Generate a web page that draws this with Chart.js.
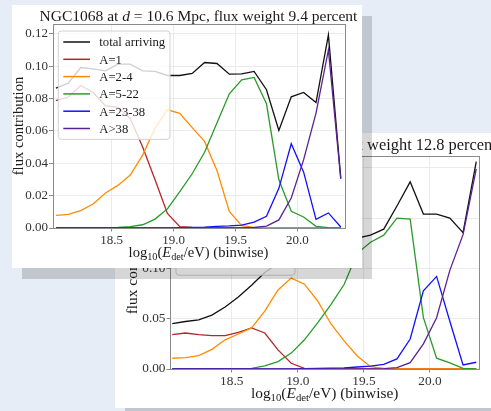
<!DOCTYPE html>
<html>
<head>
<meta charset="utf-8">
<script src="https://cdn.jsdelivr.net/npm/chart.js@4.4.1/dist/chart.umd.min.js"></script>
<style>
html, body { margin: 0; padding: 0; width: 491px; height: 411px; overflow: hidden; background: #e7edf7; }
.card { position: absolute; background: #fff; box-shadow: 10px 11px 0 rgba(0, 0, 0, 0.16); }
#back { left: 115px; top: 133px; width: 385px; height: 275px; }
#front { left: 12px; top: 5px; width: 350px; height: 263px; }
canvas { display: block; }
</style>
</head>
<body>
<div class="card" id="back"><canvas id="chartBack" width="385" height="275"></canvas></div>
<div class="card" id="front"><canvas id="chartFront" width="350" height="263"></canvas></div>
<script>
// bin centres, log10(E/eV)
const energyBins = [18.05, 18.15, 18.25, 18.35, 18.45, 18.55, 18.65, 18.75, 18.85, 18.95, 19.05, 19.15,
                    19.25, 19.35, 19.45, 19.55, 19.65, 19.75, 19.85, 19.95, 20.05, 20.15, 20.25, 20.35];
const groupLabels = ['total arriving', 'A=1', 'A=2-4', 'A=5-22', 'A=23-38', 'A>38'];
const groupColors = ['#111111', '#b82525', '#ff8c00', '#2a9a2a', '#1010ff', '#5a2296'];
const xTickValues = [18.5, 19.0, 19.5, 20.0];

// front chart: flux weight 9.4 percent
const totalFront   = [0.0864, 0.0895, 0.0991, 0.0983, 0.0971, 0.1012, 0.1012, 0.0971, 0.0967, 0.0942, 0.0942, 0.0955,
                      0.1022, 0.1016, 0.0950, 0.0952, 0.0967, 0.0854, 0.0603, 0.0810, 0.0837, 0.0775, 0.1193, 0.0309];
const protonsFront = [0.0786, 0.0809, 0.0880, 0.0837, 0.0755, 0.0745, 0.0675, 0.0500, 0.0298, 0.0090, 0.0008, 0.0003,
                      0.0001, 0, 0, 0, 0, 0, 0, 0, 0, 0, 0, 0];
const heliumFront  = [0.0078, 0.0084, 0.0107, 0.0148, 0.0216, 0.0263, 0.0327, 0.0450, 0.0617, 0.0730, 0.0708, 0.0620,
                      0.0535, 0.0355, 0.0103, 0.0015, 0.0004, 0.0002, 0.0001, 0, 0, 0, 0, 0];
const cnoFront     = [0.0001, 0.0001, 0.0001, 0.0002, 0.0002, 0.0003, 0.0008, 0.0020, 0.0055, 0.0118, 0.0224, 0.0335,
                      0.0468, 0.0648, 0.0829, 0.0915, 0.0930, 0.0767, 0.0298, 0.0103, 0.0068, 0.0010, 0.0002, 0];
const siliconFront = [0, 0, 0, 0, 0, 0, 0, 0, 0.0001, 0.0001, 0.0002, 0.0004,
                      0.0006, 0.0010, 0.0013, 0.0018, 0.0036, 0.0072, 0.0245, 0.0520, 0.0345, 0.0053, 0.0093, 0.0006];
const ironFront    = [0, 0, 0, 0, 0, 0, 0, 0, 0, 0, 0, 0,
                      0, 0, 0, 0.0001, 0.0003, 0.0012, 0.0050, 0.0185, 0.0422, 0.0710, 0.1100, 0.0303];
const yTicksFront  = [0, 0.02, 0.04, 0.06, 0.08, 0.10, 0.12];

// back chart: flux weight 12.8 percent
const totalBack    = [0.0452, 0.0472, 0.0489, 0.0535, 0.0616, 0.0716, 0.0833, 0.0960, 0.1050, 0.1120, 0.1140, 0.1140,
                      0.1100, 0.1130, 0.1300, 0.1330, 0.1390, 0.1620, 0.1860, 0.1540, 0.1540, 0.1500, 0.1355, 0.2060];
const protonsBack  = [0.0341, 0.0358, 0.0341, 0.0331, 0.0331, 0.0364, 0.0408, 0.0358, 0.0190, 0.0057, 0.0007, 0.0002,
                      0.0001, 0, 0, 0, 0, 0, 0, 0, 0, 0, 0, 0];
const heliumBack   = [0.0107, 0.0114, 0.0134, 0.0195, 0.0290, 0.0348, 0.0408, 0.0575, 0.0786, 0.0904, 0.0843, 0.0676,
                      0.0450, 0.0280, 0.0130, 0.0023, 0.0005, 0.0002, 0.0001, 0, 0, 0, 0, 0];
const cnoBack      = [0.0001, 0.0001, 0.0001, 0.0002, 0.0002, 0.0003, 0.0007, 0.0030, 0.0074, 0.0158, 0.0290, 0.0459,
                      0.0640, 0.0840, 0.1150, 0.1260, 0.1330, 0.1500, 0.1490, 0.0510, 0.0107, 0.0060, 0.0007, 0];
const siliconBack  = [0, 0, 0, 0, 0, 0, 0, 0, 0.0001, 0.0002, 0.0003, 0.0005,
                      0.0008, 0.0012, 0.0020, 0.0028, 0.0047, 0.0100, 0.0298, 0.0776, 0.0920, 0.0475, 0.0040, 0.0067];
const ironBack     = [0, 0, 0, 0, 0, 0, 0, 0, 0, 0, 0, 0,
                      0, 0, 0, 0, 0.0003, 0.0013, 0.0063, 0.0250, 0.0509, 0.0980, 0.1335, 0.1990];
const yTicksBack   = [0, 0.05, 0.10, 0.15, 0.20];

const SERIF = "'Liberation Serif', 'DejaVu Serif', serif";

// text with italic / subscript pieces, like the LaTeX labels
function drawRich(ctx, parts, x, y, size, rotated) {
  const fontOf = p => p[1] === 's' ? (size * 0.7) + 'px ' + SERIF
                    : p[1] === 'i' ? 'italic ' + size + 'px ' + SERIF
                    : size + 'px ' + SERIF;
  let w = 0;
  parts.forEach(p => { ctx.font = fontOf(p); w += ctx.measureText(p[0]).width; });
  ctx.save();
  ctx.translate(x, y);
  if (rotated) ctx.rotate(-Math.PI / 2);
  ctx.fillStyle = '#1a1a1a';
  ctx.textAlign = 'left';
  ctx.textBaseline = 'alphabetic';
  let cx = -w / 2;
  parts.forEach(p => {
    ctx.font = fontOf(p);
    ctx.fillText(p[0], cx, p[1] === 's' ? size * 0.22 : 0);
    cx += ctx.measureText(p[0]).width;
  });
  ctx.restore();
}

const richText = {
  id: 'richText',
  afterDraw(chart, args, o) {
    const ctx = chart.ctx, a = chart.chartArea;
    drawRich(ctx, o.title, (a.left + a.right) / 2, o.titleY, o.titleSize);
    drawRich(ctx, o.xLabel, (a.left + a.right) / 2, o.xLabelY, o.labelSize);
    drawRich(ctx, o.yLabel, o.yLabelX, (a.top + a.bottom) / 2, o.labelSize, true);
  }
};

// axes frame plus a matplotlib-like legend box in the upper left
const boxLegend = {
  id: 'boxLegend',
  afterDatasetsDraw(chart, args, o) {
    const ctx = chart.ctx, a = chart.chartArea;
    ctx.save();
    ctx.strokeStyle = '#8a8a8a';
    ctx.lineWidth = 1;
    ctx.strokeRect(Math.round(a.left) + 0.5, Math.round(a.top) + 0.5,
                   Math.round(a.right - a.left), Math.round(a.bottom - a.top));
    const x = a.left + o.dx, y = a.top + o.dy, w = o.w, h = o.h, r = 3;
    ctx.beginPath();
    ctx.roundRect(x, y, w, h, r);
    ctx.fillStyle = 'rgba(255,255,255,0.8)';
    ctx.fill();
    ctx.strokeStyle = '#d0d0d0';
    ctx.stroke();
    ctx.font = o.size + 'px ' + SERIF;
    ctx.textBaseline = 'middle';
    chart.data.datasets.forEach((ds, i) => {
      const cy = y + o.first + i * o.row;
      ctx.strokeStyle = ds.borderColor;
      ctx.lineWidth = 1.5;
      ctx.beginPath();
      ctx.moveTo(x + o.h0, cy);
      ctx.lineTo(x + o.h1, cy);
      ctx.stroke();
      ctx.fillStyle = '#1a1a1a';
      ctx.fillText(ds.label, x + o.tx, cy + 1);
    });
    ctx.restore();
  }
};

function makeDatasets(series) {
  return series.map((vals, i) => ({
    label: groupLabels[i],
    data: vals.map((v, k) => ({ x: energyBins[k], y: v })),
    borderColor: groupColors[i],
    borderWidth: 1.3,
    pointRadius: 0,
    tension: 0,
    order: series.length - i,
    clip: false
  }));
}

function makeChart(id, series, cfg) {
  return new Chart(document.getElementById(id), {
    type: 'line',
    data: { datasets: makeDatasets(series) },
    options: {
      responsive: false,
      animation: false,
      devicePixelRatio: 1,
      events: [],
      layout: { padding: { left: 0, right: cfg.padRight, top: cfg.padTop, bottom: 0 } },
      plugins: {
        legend: { display: false },
        title: { display: false },
        tooltip: { enabled: false },
        boxLegend: cfg.legend,
        richText: cfg.text
      },
      scales: {
        x: {
          type: 'linear',
          min: cfg.xMin,
          max: cfg.xMax,
          afterFit: s => { s.height = cfg.xHeight; },
          afterBuildTicks: s => { s.ticks = xTickValues.map(v => ({ value: v })); },
          ticks: { font: { family: SERIF, size: cfg.tickSize }, color: '#333', padding: 1,
                   maxRotation: 0, autoSkip: false, callback: v => Number(v).toFixed(1) },
          grid: { color: '#ebebeb', tickColor: '#8a8a8a', tickLength: 3.5 },
          border: { display: false }
        },
        y: {
          min: 0,
          max: cfg.yMax,
          afterFit: s => { s.width = cfg.yWidth; },
          afterBuildTicks: s => { s.ticks = cfg.yTicks.map(v => ({ value: v })); },
          ticks: { font: { family: SERIF, size: cfg.tickSize }, color: '#333', padding: 1,
                   callback: v => Number(v).toFixed(2) },
          grid: { color: '#ebebeb', tickColor: '#8a8a8a', tickLength: 3.5 },
          border: { display: false }
        }
      }
    },
    plugins: [boxLegend, richText]
  });
}

const xLabelParts = [['log', ''], ['10', 's'], ['(', ''], ['E', 'i'], ['det', 's'], ['/eV) (binwise)', '']];
const yLabelParts = [['flux contribution', '']];

makeChart('chartBack', [totalBack, protonsBack, heliumBack, cnoBack, siliconBack, ironBack], {
  padRight: 20.7, padTop: 22.7, xHeight: 39, yWidth: 55,
  xMin: 18.033, xMax: 20.373, yMax: 0.212, yTicks: yTicksBack, tickSize: 13.3,
  legend: { dx: 6, dy: 4.5, w: 119, h: 115, first: 11.7, row: 18.4, h0: 5.3, h1: 33.6, tx: 43.5, size: 13.4 },
  text: {
    title: [['NGC1068 at ', ''], ['d', 'i'], [' = 10.6 Mpc, flux weight 12.8 percent', '']],
    titleY: 17, titleSize: 16.4,
    xLabel: xLabelParts, xLabelY: 265, labelSize: 15.4,
    yLabel: yLabelParts, yLabelX: 21.7
  }
});

makeChart('chartFront', [totalFront, protonsFront, heliumFront, cnoFront, siliconFront, ironFront], {
  padRight: 17.5, padTop: 19, xHeight: 40, yWidth: 40.5,
  xMin: 18.022, xMax: 20.38, yMax: 0.126, yTicks: yTicksFront, tickSize: 13,
  legend: { dx: 5.8, dy: 7, w: 111.7, h: 108.3, first: 11, row: 17.3, h0: 5, h1: 31.7, tx: 41, size: 12.7 },
  text: {
    title: [['NGC1068 at ', ''], ['d', 'i'], [' = 10.6 Mpc, flux weight 9.4 percent', '']],
    titleY: 16, titleSize: 15.5,
    xLabel: xLabelParts, xLabelY: 251.5, labelSize: 14.6,
    yLabel: yLabelParts, yLabelX: 11.3
  }
});
</script>
</body>
</html>
